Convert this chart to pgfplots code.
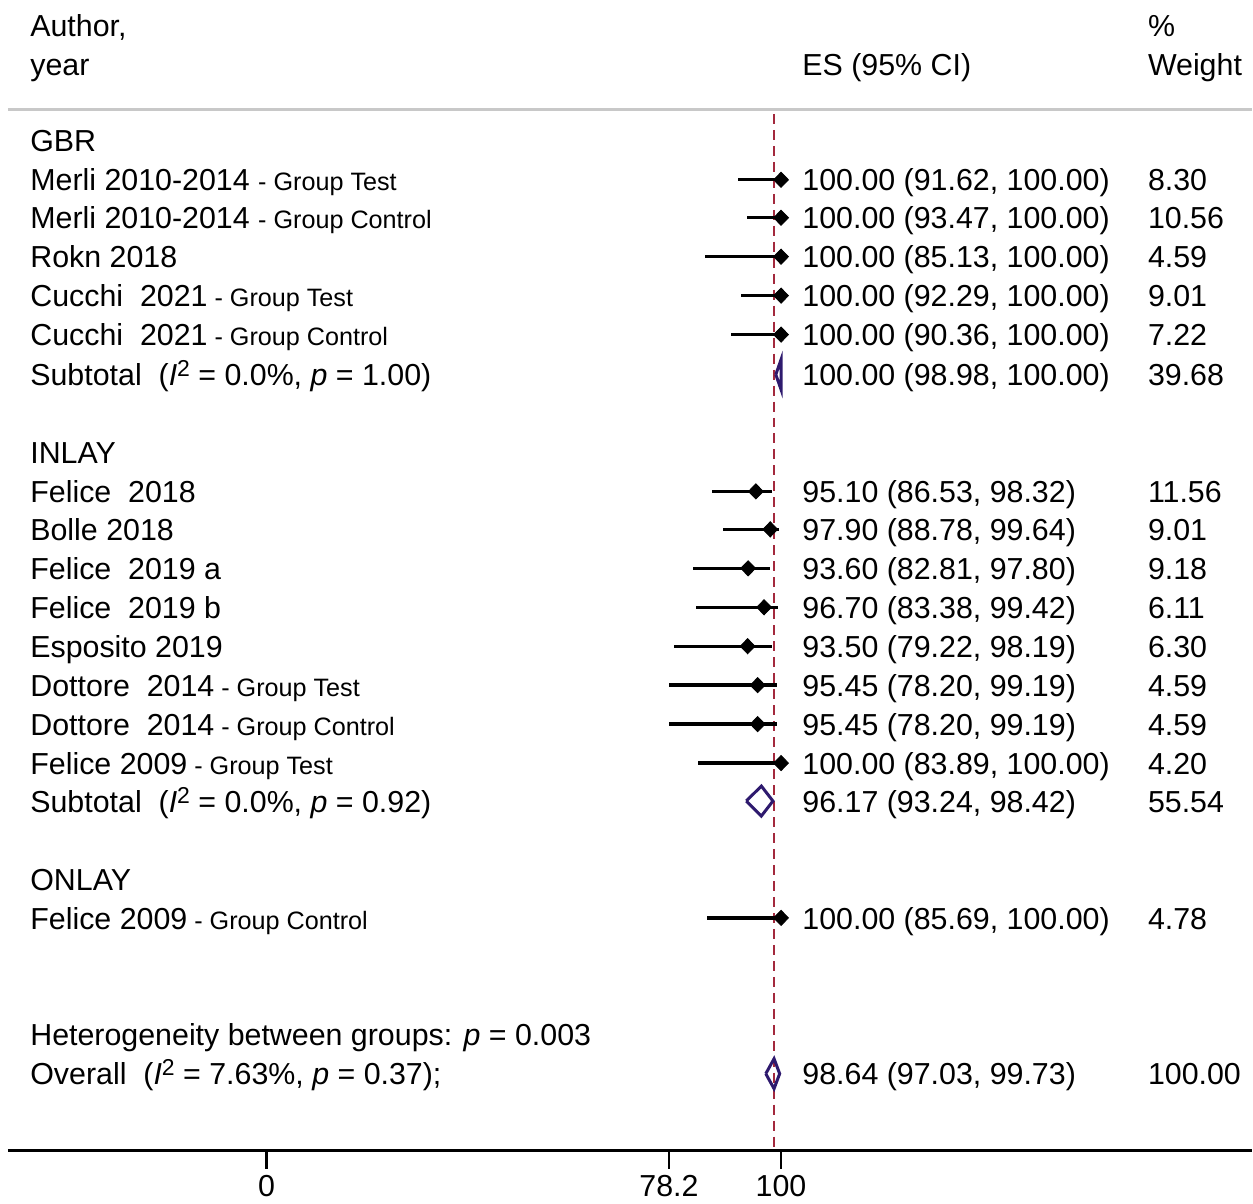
\documentclass[border=0pt]{standalone}
\usepackage{fontspec}
\setmainfont{Liberation Sans}
\usepackage{pgfplots}
\usepackage{pgfplotstable}
\pgfplotsset{compat=1.18}
\definecolor{dred}{HTML}{A3293D}
\definecolor{dpurple}{HTML}{2E1A6E}
\definecolor{sepgray}{HTML}{C8C8C8}

% y = row position (px from top), est, lo, hi
\pgfplotstableread{
y est lo hi
180 100 91.62 100
218 100 93.47 100
257 100 85.13 100
296 100 92.29 100
335 100 90.36 100
492 95.10 86.53 98.32
530 97.90 88.78 99.64
569 93.60 82.81 97.80
608 96.70 83.38 99.42
647 93.50 79.22 98.19
686 95.45 78.20 99.19
725 95.45 78.20 99.19
764 100 83.89 100
919 100 85.69 100
}\studies

\newcommand{\sm}[1]{{\fontsize{12.6}{15}\selectfont #1}}
\newcommand{\Isq}{\textit{I}\raisebox{0.3em}{\fontsize{11.5}{12}\selectfont 2}}

\begin{document}
\begin{tikzpicture}[
  lab/.style={anchor=west, inner sep=0pt, text height=0.716em, text depth=0pt, yshift=-2pt, font=\fontsize{15.2}{18}\selectfont},
  tl/.style={anchor=center, inner sep=0pt, text height=0.716em, text depth=0pt, font=\fontsize{15.2}{18}\selectfont},
]
\begin{axis}[
  scale only axis, width=626.5pt, height=602.5pt,
  xmin=-51.845, xmax=191.456, ymin=0, ymax=1205, y dir=reverse,
  hide axis, clip=false]
\path (rel axis cs:0,0) rectangle (rel axis cs:1,1);

% separator
\addplot[sepgray, line width=1.5pt] coordinates {(-50.29,110) (191.46,110)};
% reference line
\addplot[dred, line width=1.2pt, dash pattern=on 5pt off 3pt] coordinates {(98.64,114) (98.64,1152)};
% bottom axis
\addplot[black, line width=1.2pt] coordinates {(-50.29,1152) (191.46,1152)};
\addplot[black, line width=1.2pt] coordinates {(0,1152) (0,1170)};
\addplot[black, line width=1.2pt] coordinates {(78.2,1152) (78.2,1170)};
\addplot[black, line width=1.2pt] coordinates {(100,1152) (100,1170)};

% studies
\addplot[only marks, mark=diamond*, mark size=3.8pt, mark options={xscale=1.3}, black,
  error bars/.cd, x dir=both, x explicit,
  error bar style={line width=1.7pt, black}, error mark=none]
  table[x=est, y=y, x error plus expr=\thisrow{hi}-\thisrow{est}, x error minus expr=\thisrow{est}-\thisrow{lo}] {\studies};

% pooled diamonds
\addplot[dpurple, line width=1.5pt] coordinates {(98.98,375) (100,360) (100,390) (98.98,375)};
\addplot[dpurple, line width=1.5pt] coordinates {(93.24,802) (96.17,787) (98.42,802) (96.17,817) (93.24,802)};
\addplot[dpurple, line width=1.5pt] coordinates {(97.03,1075) (98.64,1060) (99.73,1075) (98.64,1090) (97.03,1075)};

% header
\node[lab] at (axis cs:-46.02,25) {Author,};
\node[lab] at (axis cs:-46.02,64) {year};
\node[lab] at (axis cs:104.08,64) {ES (95\% CI)};
\node[lab] at (axis cs:171.26,25) {\%};
\node[lab] at (axis cs:171.26,64) {Weight};

% left column
\node[lab] at (axis cs:-46.02,141) {GBR};
\node[lab] at (axis cs:-46.02,180) {Merli 2010-2014 \sm{- Group Test}};
\node[lab] at (axis cs:-46.02,218) {Merli 2010-2014 \sm{- Group Control}};
\node[lab] at (axis cs:-46.02,257) {Rokn 2018};
\node[lab] at (axis cs:-46.02,296) {Cucchi\ \ 2021\sm{ - Group Test}};
\node[lab] at (axis cs:-46.02,335) {Cucchi\ \ 2021\sm{ - Group Control}};
\node[lab] at (axis cs:-46.02,375) {Subtotal\ \ (\Isq{} = 0.0\%, \textit{p} = 1.00)};
\node[lab] at (axis cs:-46.02,453) {INLAY};
\node[lab] at (axis cs:-46.02,492) {Felice\ \ 2018};
\node[lab] at (axis cs:-46.02,530) {Bolle 2018};
\node[lab] at (axis cs:-46.02,569) {Felice\ \ 2019 a};
\node[lab] at (axis cs:-46.02,608) {Felice\ \ 2019 b};
\node[lab] at (axis cs:-46.02,647) {Esposito 2019};
\node[lab] at (axis cs:-46.02,686) {Dottore\ \ 2014\sm{ - Group Test}};
\node[lab] at (axis cs:-46.02,725) {Dottore\ \ 2014\sm{ - Group Control}};
\node[lab] at (axis cs:-46.02,764) {Felice 2009\sm{ - Group Test}};
\node[lab] at (axis cs:-46.02,802) {Subtotal\ \ (\Isq{} = 0.0\%, \textit{p} = 0.92)};
\node[lab] at (axis cs:-46.02,880) {ONLAY};
\node[lab] at (axis cs:-46.02,919) {Felice 2009\sm{ - Group Control}};
\node[lab] at (axis cs:-46.02,1036) {Heterogeneity between groups: \textit{p} = 0.003};
\node[lab] at (axis cs:-46.02,1075) {Overall\ \ (\Isq{} = 7.63\%, \textit{p} = 0.37);};

% ES column
\node[lab] at (axis cs:104.08,180) {100.00 (91.62, 100.00)};
\node[lab] at (axis cs:104.08,218) {100.00 (93.47, 100.00)};
\node[lab] at (axis cs:104.08,257) {100.00 (85.13, 100.00)};
\node[lab] at (axis cs:104.08,296) {100.00 (92.29, 100.00)};
\node[lab] at (axis cs:104.08,335) {100.00 (90.36, 100.00)};
\node[lab] at (axis cs:104.08,375) {100.00 (98.98, 100.00)};
\node[lab] at (axis cs:104.08,492) {95.10 (86.53, 98.32)};
\node[lab] at (axis cs:104.08,530) {97.90 (88.78, 99.64)};
\node[lab] at (axis cs:104.08,569) {93.60 (82.81, 97.80)};
\node[lab] at (axis cs:104.08,608) {96.70 (83.38, 99.42)};
\node[lab] at (axis cs:104.08,647) {93.50 (79.22, 98.19)};
\node[lab] at (axis cs:104.08,686) {95.45 (78.20, 99.19)};
\node[lab] at (axis cs:104.08,725) {95.45 (78.20, 99.19)};
\node[lab] at (axis cs:104.08,764) {100.00 (83.89, 100.00)};
\node[lab] at (axis cs:104.08,802) {96.17 (93.24, 98.42)};
\node[lab] at (axis cs:104.08,919) {100.00 (85.69, 100.00)};
\node[lab] at (axis cs:104.08,1075) {98.64 (97.03, 99.73)};

% weight column
\node[lab] at (axis cs:171.26,180) {8.30};
\node[lab] at (axis cs:171.26,218) {10.56};
\node[lab] at (axis cs:171.26,257) {4.59};
\node[lab] at (axis cs:171.26,296) {9.01};
\node[lab] at (axis cs:171.26,335) {7.22};
\node[lab] at (axis cs:171.26,375) {39.68};
\node[lab] at (axis cs:171.26,492) {11.56};
\node[lab] at (axis cs:171.26,530) {9.01};
\node[lab] at (axis cs:171.26,569) {9.18};
\node[lab] at (axis cs:171.26,608) {6.11};
\node[lab] at (axis cs:171.26,647) {6.30};
\node[lab] at (axis cs:171.26,686) {4.59};
\node[lab] at (axis cs:171.26,725) {4.59};
\node[lab] at (axis cs:171.26,764) {4.20};
\node[lab] at (axis cs:171.26,802) {55.54};
\node[lab] at (axis cs:171.26,919) {4.78};
\node[lab] at (axis cs:171.26,1075) {100.00};

% tick labels
\node[tl] at (axis cs:0,1191) {0};
\node[tl] at (axis cs:78.2,1191) {78.2};
\node[tl] at (axis cs:100,1191) {100};
\end{axis}
\end{tikzpicture}
\end{document}
